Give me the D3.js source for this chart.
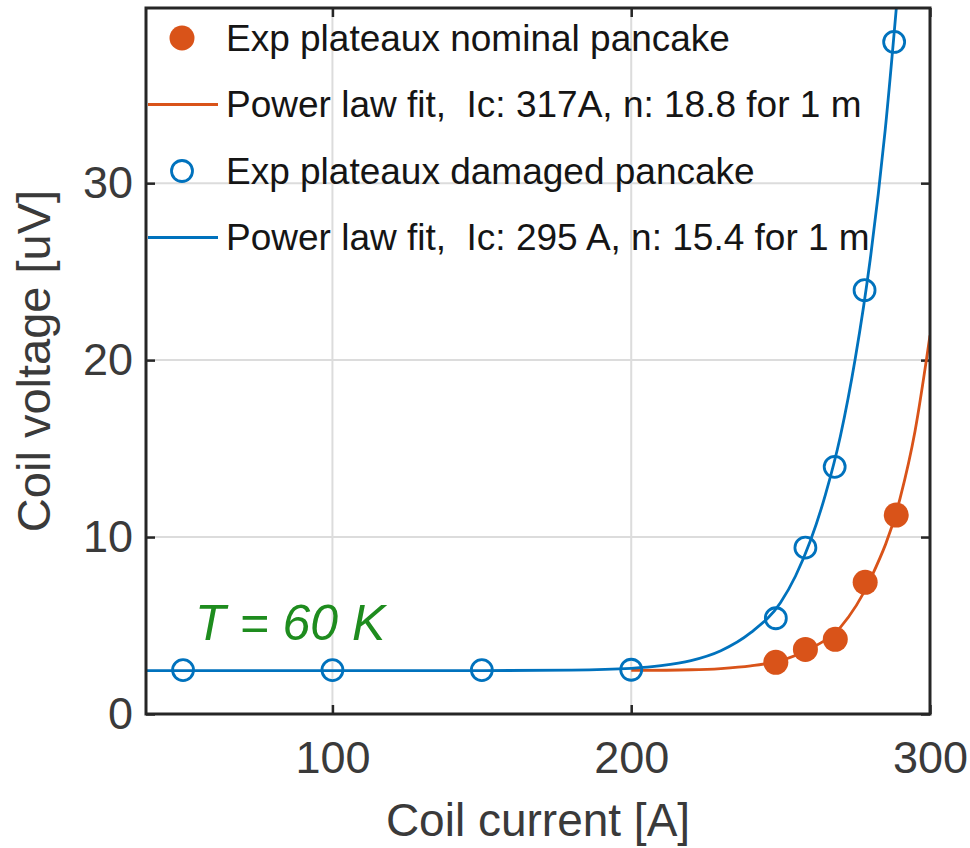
<!DOCTYPE html>
<html>
<head>
<meta charset="utf-8">
<script src="https://cdn.jsdelivr.net/npm/d3@7"></script>
<style>
  body { margin: 0; background: #fff; }
  svg { display: block; font-family: "Liberation Sans", Arial, sans-serif; }
</style>
</head>
<body>
<div class="drawer"></div>
<script>
// measured points (current [A], voltage [uV])
let nominalI = [248.4, 258.3, 268.3, 278.3, 288.7]
let nominalV = [2.92, 3.65, 4.22, 7.44, 11.24]
let damagedI = [50, 100, 150, 200, 248.4, 258.3, 268.1, 278.1, 288]
let damagedV = [2.48, 2.48, 2.48, 2.5, 5.41, 9.4, 13.97, 23.95, 37.98]

// fit curves
let nominalFitI = [200, 220, 230, 240, 250, 260, 270, 280, 290, 295, 300]
let nominalFitV = [2.46, 2.5, 2.57, 2.72, 3.02, 3.7, 4.9, 7.6, 12.2, 16.0, 21.4]
let damagedFitI = [37.6, 150, 180, 200, 210, 220, 230, 240, 250, 255, 260, 265, 270, 275, 280, 285, 290]
let damagedFitV = [2.45, 2.45, 2.48, 2.58, 2.73, 3.02, 3.58, 4.6, 6.3, 7.8, 9.8, 12.4, 15.7, 20.1, 25.7, 33.0, 42.4]

let xTicks = [100, 200, 300]
let yTicks = [0, 10, 20, 30]
let legendLabels = [
  'Exp plateaux nominal pancake',
  'Power law fit,  Ic: 317A, n: 18.8 for 1 m',
  'Exp plateaux damaged pancake',
  'Power law fit,  Ic: 295 A, n: 15.4 for 1 m'
]

{
  const orange = '#D95319', blue = '#0072BD', ink = '#262626', label = '#3a3a3a'
  const W = 970, H = 848
  const left = 146, right = 930, top = 8, bottom = 714

  let svg = d3.select('.drawer').append('svg')
    .attr('width', W)
    .attr('height', H)

  let x = d3.scaleLinear().domain([37.6, 300]).range([left, right])
  let y = d3.scaleLinear().domain([0, 39.9]).range([bottom, top])

  // grid
  svg.append('g').selectAll('line.gx')
    .data(xTicks).enter().append('line')
    .attr('x1', d => x(d)).attr('x2', d => x(d))
    .attr('y1', top).attr('y2', bottom)
    .style('stroke', '#dcdcdc').style('stroke-width', 2)
  svg.append('g').selectAll('line.gy')
    .data(yTicks).enter().append('line')
    .attr('x1', left).attr('x2', right)
    .attr('y1', d => y(d)).attr('y2', d => y(d))
    .style('stroke', '#dcdcdc').style('stroke-width', 2)

  // axes, ticks point inward
  let axisStyle = g => {
    g.select('.domain').remove()
    g.selectAll('.tick line').style('stroke', ink).style('stroke-width', 2.5)
    g.selectAll('.tick text').style('fill', label).style('font-size', '45px')
  }
  svg.append('g').attr('transform', `translate(0,${bottom})`)
    .call(d3.axisBottom(x).tickValues(xTicks).tickSizeInner(-9).tickSizeOuter(0).tickPadding(27))
    .call(axisStyle)
  svg.append('g').attr('transform', `translate(0,${top})`)
    .call(d3.axisTop(x).tickValues(xTicks).tickSizeInner(-9).tickSizeOuter(0).tickFormat(''))
    .call(axisStyle)
  svg.append('g').attr('transform', `translate(${left},0)`)
    .call(d3.axisLeft(y).tickValues(yTicks).tickSizeInner(-9).tickSizeOuter(0).tickPadding(13))
    .call(axisStyle)
  svg.append('g').attr('transform', `translate(${right},0)`)
    .call(d3.axisRight(y).tickValues(yTicks).tickSizeInner(-9).tickSizeOuter(0).tickFormat(''))
    .call(axisStyle)

  // clip for the curves
  svg.append('clipPath').attr('id', 'plot-clip')
    .append('rect')
    .attr('x', left).attr('y', top)
    .attr('width', right - left).attr('height', bottom - top)

  let line = d3.line().x(d => x(d[0])).y(d => y(d[1])).curve(d3.curveMonotoneX)
  let plot = svg.append('g').attr('clip-path', 'url(#plot-clip)')

  plot.append('path')
    .datum(nominalFitI.map((v, i) => [v, nominalFitV[i]]))
    .attr('d', line)
    .style('fill', 'none').style('stroke', orange).style('stroke-width', 2.8)
  plot.append('path')
    .datum(damagedFitI.map((v, i) => [v, damagedFitV[i]]))
    .attr('d', line)
    .style('fill', 'none').style('stroke', blue).style('stroke-width', 2.8)

  svg.append('g').selectAll('circle')
    .data(nominalI.map((v, i) => [v, nominalV[i]]))
    .enter().append('circle')
    .attr('cx', d => x(d[0])).attr('cy', d => y(d[1]))
    .attr('r', 12.5)
    .style('fill', orange)
  svg.append('g').selectAll('circle')
    .data(damagedI.map((v, i) => [v, damagedV[i]]))
    .enter().append('circle')
    .attr('cx', d => x(d[0])).attr('cy', d => y(d[1]))
    .attr('r', 10.5)
    .style('fill', 'none').style('stroke', blue).style('stroke-width', 2.8)

  // box
  svg.append('rect')
    .attr('x', left).attr('y', top)
    .attr('width', right - left).attr('height', bottom - top)
    .style('fill', 'none').style('stroke', ink).style('stroke-width', 3)

  // legend, no frame
  let legend = svg.append('g').selectAll('g')
    .data(legendLabels).enter().append('g')
    .attr('transform', (d, i) => `translate(0,${38 + i * 66.5})`)
  legend.filter((d, i) => i === 0).append('circle')
    .attr('cx', 182).attr('cy', 0).attr('r', 12.5).style('fill', orange)
  legend.filter((d, i) => i === 2).append('circle')
    .attr('cx', 182).attr('cy', 0).attr('r', 10.5)
    .style('fill', 'none').style('stroke', blue).style('stroke-width', 2.8)
  legend.filter((d, i) => i % 2 === 1).append('line')
    .attr('x1', 148).attr('x2', 218).attr('y1', 0).attr('y2', 0)
    .style('stroke', (d, i) => i === 0 ? orange : blue)
    .style('stroke-width', 2.8)
  legend.append('text')
    .attr('x', 226).attr('y', 0).attr('dy', '0.35em')
    .style('font-size', '37px').style('fill', '#151515')
    .style('white-space', 'pre')
    .text(d => d)

  svg.append('text')
    .attr('x', 195).attr('y', 640)
    .style('font-size', '50px').style('font-style', 'italic')
    .style('fill', '#1e8c1e')
    .text('T = 60 K')

  // axis labels
  svg.append('text')
    .attr('x', (left + right) / 2).attr('y', 836)
    .attr('text-anchor', 'middle')
    .style('font-size', '46px').style('fill', label)
    .text('Coil current [A]')
  svg.append('text')
    .attr('transform', `translate(50,${(top + bottom) / 2}) rotate(-90)`)
    .attr('text-anchor', 'middle')
    .style('font-size', '47px').style('fill', label)
    .text('Coil voltage [uV]')
}
</script>
</body>
</html>
